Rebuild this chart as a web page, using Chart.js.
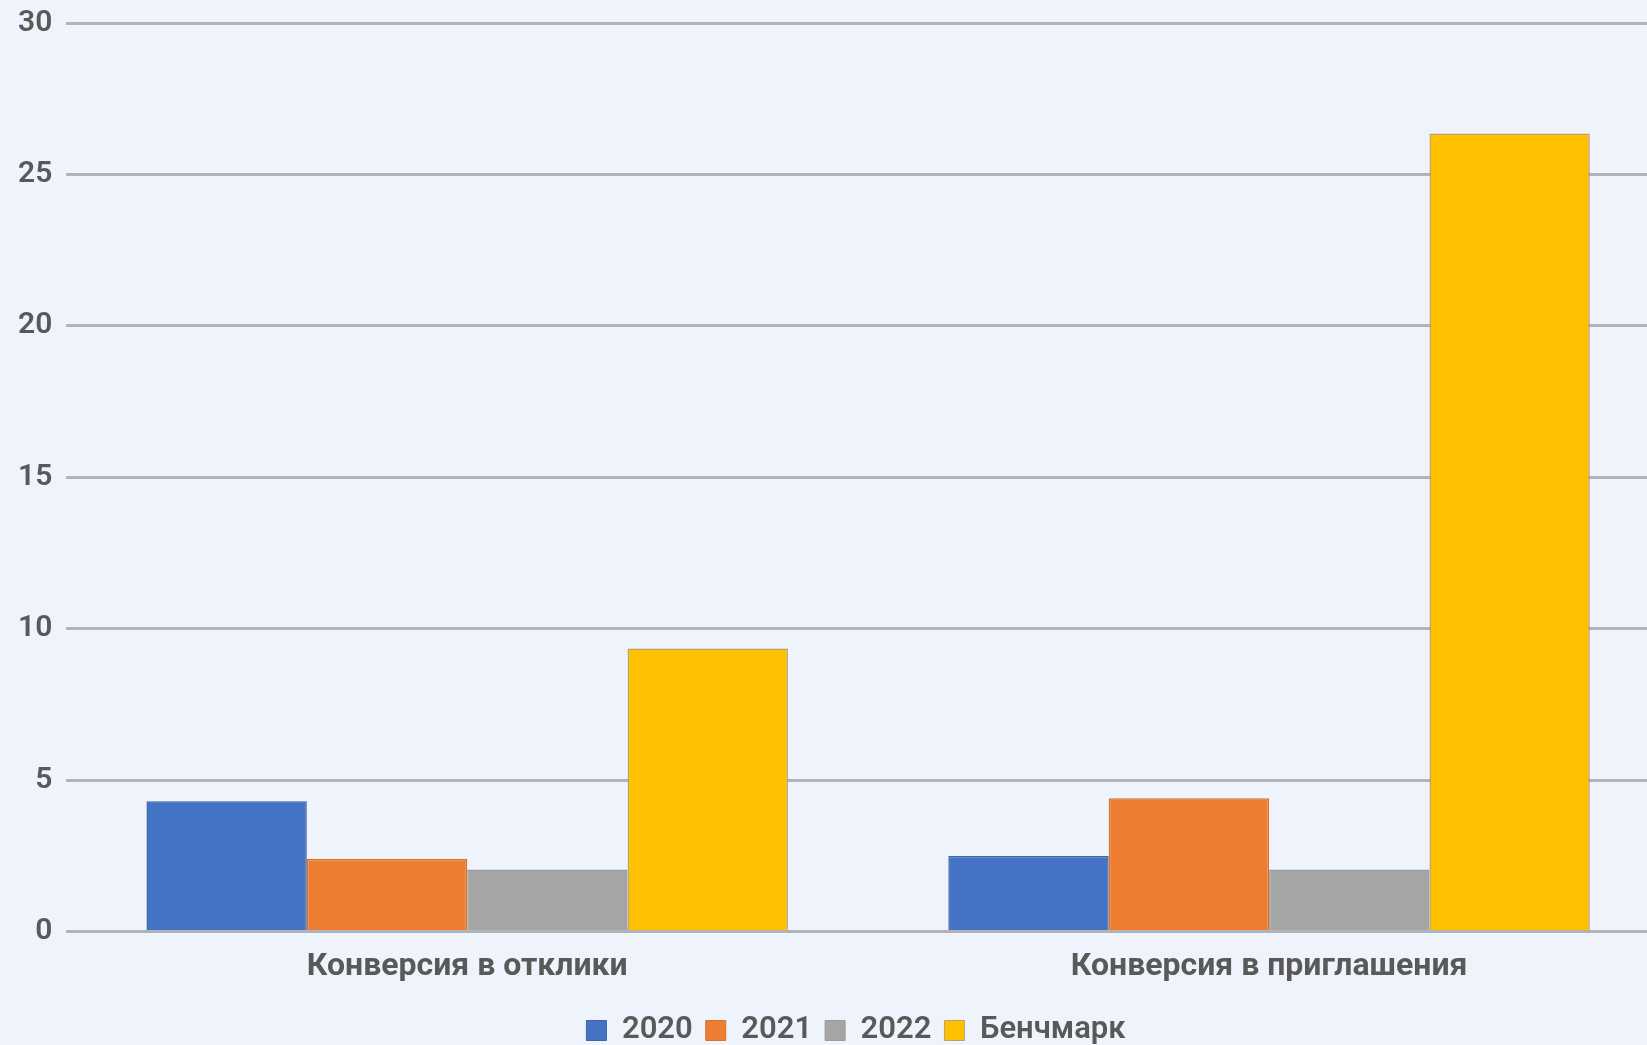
<!DOCTYPE html>
<html>
<head>
<meta charset="utf-8">
<script src="https://cdn.jsdelivr.net/npm/chart.js@4.4.1/dist/chart.umd.min.js"></script>
<style>
  html, body { margin: 0; padding: 0; background: #eff3fb; overflow: hidden; width: 1647px; height: 1045px; }
  #wrap { position: absolute; left: 0; top: -9px; width: 1700px; height: 1069px; }
</style>
</head>
<body>
<div id="wrap"><canvas id="c"></canvas></div>
<script>
const categories = ['Конверсия в отклики', 'Конверсия в приглашения'];
const seriesNames = ['2020', '2021', '2022', 'Бенчмарк'];
const values2020 = [4.3, 2.5];
const values2021 = [2.4, 4.4];
const values2022 = [2.05, 2.05];
const valuesBench = [9.35, 26.35];
const yTicks = [0, 5, 10, 15, 20, 25, 30];

const fills = ['#4472C4', '#ED7D31', '#A5A5A5', '#FFC000'];
const borders = ['#3d64a8', '#d8732e', '#9b9b9b', '#b7a36a'];
const allValues = [values2020, values2021, values2022, valuesBench];

const font = 'Roboto, "Open Sans", "DejaVu Sans", sans-serif';

const legendShift = {
  id: 'legendShift',
  afterLayout(chart) {
    if (chart.legend) {
      chart.legend.left += 19;
      chart.legend.right += 19;
    }
  }
};

new Chart(document.getElementById('c'), {
  type: 'bar',
  data: {
    labels: categories,
    datasets: seriesNames.map((n, i) => ({
      label: n,
      data: allValues[i],
      backgroundColor: fills[i],
      borderColor: borders[i],
      borderWidth: 1.5,
      categoryPercentage: 0.8,
      barPercentage: 1.0
    }))
  },
  plugins: [legendShift],
  options: {
    responsive: true,
    maintainAspectRatio: false,
    animation: false,
    layout: { padding: { left: 4, right: 30, top: 4, bottom: 4 } },
    plugins: {
      tooltip: { enabled: false },
      title: { display: false },
      legend: {
        position: 'bottom',
        labels: {
          font: { family: font, size: 31, weight: '600' },
          color: '#595959',
          boxWidth: 20,
          boxHeight: 20,
          padding: 13,
          generateLabels: (chart) => chart.data.datasets.map((d, i) => ({
            text: d.label,
            fillStyle: fills[i],
            strokeStyle: borders[i],
            lineWidth: 1,
            datasetIndex: i,
            fontColor: '#595959'
          }))
        }
      }
    },
    scales: {
      x: {
        grid: { display: false, drawTicks: false },
        border: { display: false },
        ticks: {
          font: { family: font, size: 32, weight: 'bold' },
          color: '#595959',
          padding: 16
        }
      },
      y: {
        min: 0,
        max: 30,
        afterBuildTicks: (axis) => { axis.ticks = yTicks.map(v => ({ value: v })); },
        grid: { color: '#b0b3b8', lineWidth: 3, drawTicks: false },
        border: { display: false },
        ticks: {
          font: { family: font, size: 30, weight: '600' },
          color: '#595959',
          padding: 14
        }
      }
    }
  }
});
</script>
</body>
</html>
